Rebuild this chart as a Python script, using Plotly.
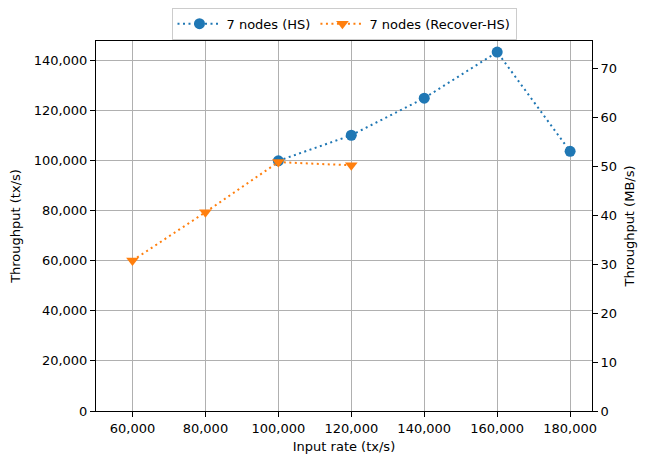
import plotly.graph_objects as go

# Data
hs_x = [100000, 120000, 140000, 160000, 180000]
hs_y = [99800, 110000, 124800, 143200, 103600]
rec_x = [60000, 80000, 100000, 120000]
rec_y = [60000, 79300, 99300, 98000]
x_ticks = [60000, 80000, 100000, 120000, 140000, 160000, 180000]
y_ticks = [0, 20000, 40000, 60000, 80000, 100000, 120000, 140000]
y2_ticks = [0, 10, 20, 30, 40, 50, 60, 70]
TX_BYTES = 512
Y_MAX = 147600

font = dict(family="DejaVu Sans", size=13, color="black")

fig = go.Figure()
fig.add_trace(go.Scatter(
    x=hs_x, y=hs_y, mode="lines+markers", name="7 nodes (HS)",
    line=dict(color="#1f77b4", width=2, dash="2px,3.5px"),
    marker=dict(symbol="circle", size=11, color="#1f77b4"),
))
fig.add_trace(go.Scatter(
    x=rec_x, y=rec_y, mode="lines+markers", name="7 nodes (Recover-HS)",
    line=dict(color="#ff7f0e", width=2, dash="2px,3.5px"),
    marker=dict(symbol="triangle-down", size=11, color="#ff7f0e"),
))
# invisible trace so the secondary (MB/s) axis is drawn
fig.add_trace(go.Scatter(
    x=hs_x, y=[v * TX_BYTES / 1e6 for v in hs_y], yaxis="y2",
    mode="markers", marker=dict(opacity=0), showlegend=False,
    hoverinfo="skip",
))

axis_common = dict(
    showline=True, linecolor="black", linewidth=1,
    ticks="outside", ticklen=5, tickwidth=1, tickcolor="black",
    tickfont=font, zeroline=False,
)

fig.update_layout(
    width=641, height=456,
    margin=dict(l=88, r=57, t=33, b=53, autoexpand=False),
    plot_bgcolor="white", paper_bgcolor="white",
    font=font,
    showlegend=True,
    legend=dict(
        orientation="h", x=0.5, xanchor="center", y=1.09, yanchor="top",
        bordercolor="#cccccc", borderwidth=1, bgcolor="white",
        font=font, itemwidth=44,
    ),
    xaxis=dict(
        range=[50000, 186000], tickvals=x_ticks, tickformat=",",
        showgrid=True, gridcolor="#b0b0b0", gridwidth=1,
        mirror=True,
        title=dict(text="Input rate (tx/s)", font=font, standoff=7),
        **axis_common,
    ),
    yaxis=dict(
        range=[0, Y_MAX], tickvals=y_ticks, tickformat=",",
        showgrid=True, gridcolor="#b0b0b0", gridwidth=1,
        title=dict(text="Throughput (tx/s)", font=font, standoff=16),
        **axis_common,
    ),
    yaxis2=dict(
        range=[0, Y_MAX * TX_BYTES / 1e6], tickvals=y2_ticks,
        overlaying="y", side="right", showgrid=False,
        title=dict(text="Throughput (MB/s)", font=font, standoff=8),
        **axis_common,
    ),
)

fig.write_html("out.html")
